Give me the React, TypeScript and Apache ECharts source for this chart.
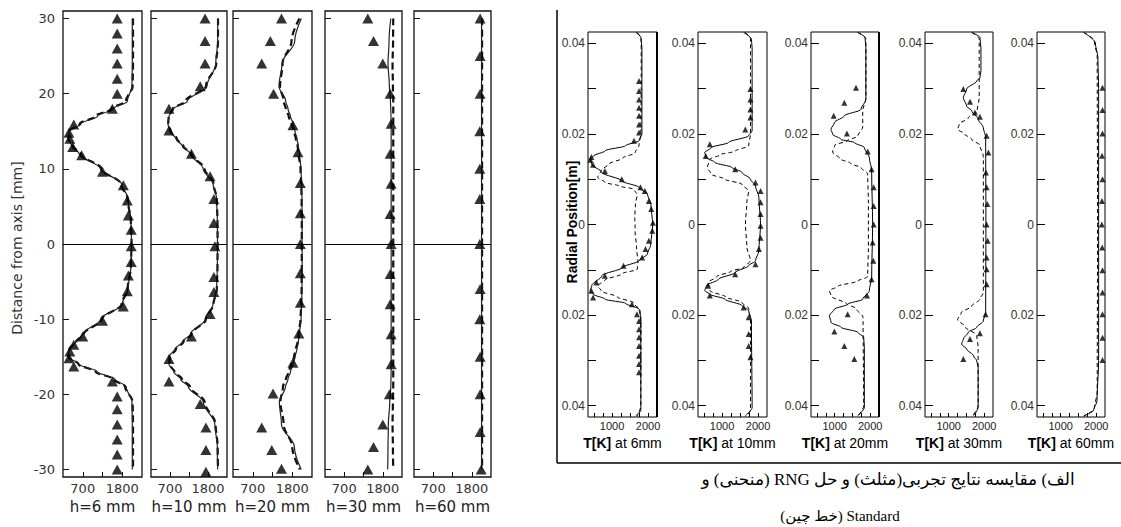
import React, { useEffect, useRef } from 'react';
import * as echarts from 'echarts';

// ---------------- LEFT PANEL DATA (T in K, distance in mm) ----------------
const LEFT_TITLES = ['h=6 mm', 'h=10 mm', 'h=20 mm', 'h=30 mm', 'h=60 mm'];
const LEFT_Y_NAME = 'Distance from axis [mm]';
const LEFT_X_TICKS = [700, 1250, 1800];
const LEFT_X_LABELS = [700, 1800];
const LEFT_Y_TICKS = [-30, -20, -10, 0, 10, 20, 30];

const LEFT_CURVE_Y = [30, 27, 24, 21, 19, 18, 17, 16, 15, 14, 13, 12, 10, 8, 6, 3, 0,
  -3, -6, -8, -10, -12, -13, -14, -15, -16, -17, -18, -19, -21, -24, -27, -30];

const H6_EXP_Y = [30, 28, 26, 24, 22, 20, 18, 15.9, 14.8, 14, 12.9, 11.8, 9.6, 7.8, 5.8, 3.8, 1.9,
  -0.3, -2.4, -4.2, -6.3, -8.3, -10.2, -12.3, -13.4, -14.3, -15.2, -16.3, -18.3, -20.3, -22, -24, -26, -28, -30];
const H6_EXP_T = [1660, 1660, 1660, 1660, 1660, 1660, 1525, 450, 315, 340, 420, 670, 1250, 1830, 1940, 1970, 2050,
  2050, 2050, 1970, 1940, 1830, 1250, 700, 450, 340, 315, 450, 1525, 1660, 1660, 1660, 1660, 1660, 1660];
const H6_RNG_T = [2080, 2080, 2080, 2070, 1940, 1550, 1110, 650, 315, 290, 400, 600, 1190, 1780, 1965, 2040, 2060,
  2040, 1960, 1800, 1195, 700, 500, 315, 290, 600, 1110, 1600, 1910, 2070, 2080, 2080, 2080];
const H6_STD_T = [2100, 2100, 2100, 2090, 1900, 1500, 1050, 620, 330, 300, 420, 640, 1220, 1760, 1950, 2040, 2060,
  2040, 1950, 1780, 1230, 730, 520, 330, 300, 580, 1060, 1560, 1880, 2090, 2100, 2100, 2100];

const H10_EXP_Y = [30, 27, 24, 21, 18, 15.1, 12, 9, 6, 2.8, -0.3, -4.4, -6.4, -9.3, -12.3, -15.3, -18.3, -21.3, -24.4, -27.4, -30.3];
const H10_EXP_T = [1715, 1715, 1715, 1575, 670, 670, 1320, 1860, 1970, 1970, 2000, 1970, 1970, 1860, 1320, 670, 670, 1575, 1740, 1740, 1740];
const H10_RNG_T = [2080, 2080, 2025, 1770, 1200, 810, 670, 640, 700, 870, 1060, 1290, 1660, 1945, 2050, 2070, 2075,
  2070, 2050, 1945, 1720, 1290, 1060, 840, 670, 670, 810, 1010, 1230, 1660, 2000, 2070, 2080];
const H10_STD_T = [2090, 2090, 2040, 1740, 1150, 780, 660, 650, 720, 900, 1090, 1320, 1700, 1960, 2055, 2075, 2080,
  2075, 2055, 1960, 1740, 1320, 1090, 870, 700, 680, 830, 1050, 1280, 1700, 2020, 2080, 2090];

const H20_EXP_Y = [30, 27, 24, 20, 15.8, 12.2, 8.1, 4.1, 0, -3.9, -7.8, -11.9, -15.8, -19.9, -24.4, -27.4, -29.9];
const H20_EXP_T = [1500, 1190, 950, 1280, 1820, 1960, 2025, 2025, 2025, 2025, 2025, 1985, 1820, 1265, 950, 1230, 1500];
const H20_RNG_T = [2053, 1870, 1515, 1430, 1617, 1681, 1748, 1820, 1876, 1932, 1970, 1998, 2043, 2060, 2070, 2075, 2075,
  2075, 2070, 2060, 2045, 2000, 1970, 1930, 1880, 1820, 1750, 1680, 1610, 1440, 1500, 1860, 2050];
const H20_STD_T = [2000, 1780, 1530, 1460, 1560, 1620, 1700, 1780, 1850, 1900, 1950, 1980, 2030, 2050, 2060, 2065, 2065,
  2065, 2060, 2050, 2030, 1980, 1950, 1900, 1850, 1780, 1700, 1620, 1540, 1470, 1560, 1800, 2010];

const H30_EXP_Y = [30, 27, 24, 20, 16, 12, 8, 4, 0, -4, -8, -12, -16, -20, -24, -27, -30];
const H30_EXP_T = [1373, 1536, 1802, 2012, 2040, 2012, 2040, 2012, 2040, 2012, 2012, 2040, 2040, 1990, 1802, 1536, 1373];
const H30_RNG_T = [2030, 1980, 1950, 1990, 2020, 2030, 2035, 2040, 2040, 2040, 2040, 2040, 2040, 2040, 2040, 2040, 2040,
  2040, 2040, 2040, 2040, 2040, 2040, 2040, 2040, 2040, 2040, 2035, 2030, 2000, 1960, 1950, 1940];
const H30_STD_T = [2100, 2095, 2080, 2090, 2100, 2100, 2100, 2100, 2100, 2100, 2100, 2100, 2100, 2100, 2100, 2100, 2100,
  2100, 2100, 2100, 2100, 2100, 2100, 2100, 2100, 2100, 2100, 2100, 2100, 2090, 2080, 2090, 2100];

const H60_EXP_Y = [30, 25, 20, 15, 10, 6, 0, -6, -10, -15, -20, -25, -30];
const H60_EXP_T = [2040, 2040, 2040, 2030, 2030, 2030, 2030, 2040, 2030, 2040, 2040, 2040, 2070];
const H60_RNG_T = [2080, 2080, 2080, 2080, 2080, 2080, 2080, 2080, 2080, 2080, 2080, 2080, 2080, 2080, 2080, 2080, 2080,
  2080, 2080, 2080, 2080, 2080, 2080, 2080, 2080, 2080, 2080, 2080, 2080, 2080, 2080, 2080, 2080];
const H60_STD_T = [2095, 2095, 2095, 2095, 2095, 2095, 2095, 2095, 2095, 2095, 2095, 2095, 2095, 2095, 2095, 2095, 2095,
  2095, 2095, 2095, 2095, 2095, 2095, 2095, 2095, 2095, 2095, 2095, 2095, 2095, 2095, 2095, 2095];

// ---------------- RIGHT PANEL DATA ([T in K, radial position in m]) ----------------
const RIGHT_TITLES = ['6mm', '10mm', '20mm', '30mm', '60mm'];
const RIGHT_Y_NAME = 'Radial Position[m]';
const RIGHT_X_TICKS = [500, 750, 1000, 1250, 1500, 1750, 2000];
const RIGHT_X_LABELS = [1000, 2000];
const RIGHT_Y_TICKS = [-0.04, -0.03, -0.02, -0.01, 0, 0.01, 0.02, 0.03, 0.04];
const RIGHT_Y_LABELS = [-0.04, -0.02, 0, 0.02, 0.04];

const R6_EXP = [[1750, 0.0317], [1750, 0.0295], [1750, 0.0276], [1750, 0.0258], [1750, 0.024], [1750, 0.0221], [1750, 0.0203], [1610, 0.0185],
  [424, 0.0149], [396, 0.0143], [471, 0.0132], [800, 0.0118], [1271, 0.01], [1789, 0.0082], [1911, 0.0074], [2024, 0.0052], [2090, 0.0034],
  [2137, 0.0004], [2118, -0.0014], [2024, -0.0036], [1930, -0.0054], [1836, -0.0073], [1318, -0.0091], [800, -0.0113], [565, -0.0128],
  [424, -0.0146], [471, -0.0161], [1553, -0.0176], [1694, -0.0198], [1750, -0.0213], [1750, -0.0231], [1750, -0.0249], [1750, -0.0268],
  [1750, -0.029], [1750, -0.0308], [1750, -0.0326]];
const R6_RNG = [[1660, 0.0424], [1800, 0.0413], [1830, 0.039], [1830, 0.02], [1750, 0.0185], [1375, 0.0174], [810, 0.0163], [480, 0.0151],
  [390, 0.0144], [435, 0.0133], [716, 0.0115], [1280, 0.0096], [1750, 0.0082], [1985, 0.0067], [2080, 0.0045], [2130, 0], [2080, -0.0043],
  [1985, -0.0065], [1750, -0.008], [1280, -0.0095], [716, -0.0113], [435, -0.0135], [390, -0.0146], [480, -0.0154], [810, -0.0165],
  [1375, -0.0174], [1750, -0.0187], [1800, -0.0205], [1800, -0.041], [1660, -0.0422]];
const R6_STD = [[1700, 0.0424], [1810, 0.041], [1810, 0.03], [1800, 0.02], [1750, 0.0175], [1640, 0.0158], [1300, 0.0147], [900, 0.0133],
  [700, 0.012], [600, 0.0104], [800, 0.0093], [1200, 0.0085], [1600, 0.0078], [1700, 0.0066], [1650, 0.0045], [1630, 0.0015], [1640, 0],
  [1640, -0.0015], [1680, -0.005], [1720, -0.0085], [1700, -0.0099], [1300, -0.0108], [800, -0.0123], [600, -0.0135], [700, -0.0147],
  [1150, -0.016], [1600, -0.0173], [1780, -0.019], [1800, -0.022], [1800, -0.04], [1700, -0.0424]];

const R10_EXP = [[1789, 0.0299], [1789, 0.0276], [1789, 0.0254], [1789, 0.0236], [1647, 0.021], [659, 0.0177], [546, 0.0151], [1365, 0.0122],
  [1930, 0.0093], [2071, 0.0074], [2071, 0.0049], [2071, 0.0023], [2071, -0.0003], [2071, -0.0029], [2024, -0.0054], [1930, -0.0088],
  [1365, -0.011], [612, -0.0135], [659, -0.0157], [1600, -0.0183], [1741, -0.0205], [1741, -0.0242], [1741, -0.0268], [1789, -0.0293]];
const R10_RNG = [[1600, 0.0424], [1817, 0.0409], [1836, 0.039], [1836, 0.0207], [1740, 0.0196], [1177, 0.0181], [706, 0.017], [518, 0.0159],
  [565, 0.0148], [800, 0.0137], [1270, 0.0126], [1553, 0.0115], [1790, 0.01], [1930, 0.0085], [2024, 0.006], [2070, 0], [2024, -0.0058],
  [1930, -0.008], [1740, -0.0091], [1365, -0.0106], [895, -0.0121], [565, -0.0135], [518, -0.0146], [660, -0.0154], [1080, -0.0165],
  [1553, -0.0179], [1740, -0.019], [1817, -0.0213], [1836, -0.0404], [1650, -0.0422]];
const R10_STD = [[1650, 0.0424], [1790, 0.041], [1790, 0.02], [1740, 0.0174], [1365, 0.0162], [940, 0.0154], [660, 0.0144], [590, 0.0126],
  [700, 0.0111], [1080, 0.01], [1550, 0.0089], [1740, 0.0074], [1690, 0.005], [1650, 0], [1690, -0.005], [1790, -0.008], [1600, -0.0095],
  [1250, -0.0103], [850, -0.0115], [610, -0.0128], [660, -0.0146], [1100, -0.016], [1550, -0.0172], [1740, -0.0185], [1790, -0.021],
  [1790, -0.041], [1650, -0.0424]];

const R20_EXP = [[1600, 0.0302], [1270, 0.0269], [970, 0.024], [1345, 0.0201], [1930, 0.0161], [2040, 0.0122], [2100, 0.0082], [2100, 0.0041],
  [2100, 0], [2070, -0.004], [2090, -0.008], [2040, -0.0121], [1910, -0.0157], [1365, -0.0198], [990, -0.0236], [1270, -0.0268], [1553, -0.0297]];
const R20_RNG = [[1650, 0.0424], [1855, 0.0413], [1880, 0.039], [1880, 0.0276], [1740, 0.0254], [1270, 0.024], [990, 0.0225], [895, 0.021],
  [942, 0.0199], [1177, 0.0188], [1553, 0.0181], [1835, 0.017], [1977, 0.0148], [2043, 0.0118], [2070, 0], [2043, -0.0117], [1977, -0.0146],
  [1790, -0.0165], [1365, -0.0176], [990, -0.0187], [850, -0.0201], [895, -0.0216], [1177, -0.0227], [1650, -0.0238], [1817, -0.0249],
  [1836, -0.0271], [1836, -0.0404], [1650, -0.0422]];
const R20_STD = [[1650, 0.0424], [1880, 0.041], [1880, 0.028], [1790, 0.025], [1790, 0.0215], [1650, 0.0195], [1350, 0.0185], [1000, 0.0175],
  [940, 0.016], [1150, 0.0145], [1450, 0.0135], [1750, 0.0125], [1930, 0.0112], [1950, 0.005], [1950, 0], [1950, -0.005], [1930, -0.0115],
  [1650, -0.0125], [1100, -0.0136], [850, -0.0146], [900, -0.0158], [1350, -0.0176], [1600, -0.0185], [1800, -0.0205], [1817, -0.04],
  [1650, -0.0424]];

const R30_EXP = [[1412, 0.0299], [1600, 0.0271], [1740, 0.0247], [1880, 0.0238], [2070, 0.0196], [2120, 0.0159], [2050, 0.0115], [2070, 0.0082],
  [2090, 0.0045], [2070, 0], [2100, -0.0036], [2070, -0.0073], [2070, -0.0099], [2070, -0.0132], [2040, -0.0198], [1880, -0.024],
  [1600, -0.0253], [1412, -0.0297]];
const R30_RNG = [[1650, 0.0424], [1880, 0.0413], [1910, 0.039], [1910, 0.0339], [1880, 0.0324], [1790, 0.0317], [1506, 0.0299], [1412, 0.028],
  [1506, 0.0261], [1650, 0.0251], [1835, 0.0232], [1977, 0.0214], [2043, 0.0192], [2050, 0], [2043, -0.0194], [1977, -0.0213],
  [1790, -0.0227], [1553, -0.0238], [1412, -0.0253], [1365, -0.0264], [1506, -0.0275], [1700, -0.029], [1790, -0.0301], [1830, -0.0315],
  [1830, -0.0404], [1700, -0.0422]];
const R30_STD = [[1650, 0.0424], [1860, 0.041], [1860, 0.028], [1800, 0.025], [1550, 0.0235], [1300, 0.0222], [1250, 0.021], [1450, 0.02],
  [1650, 0.0188], [1880, 0.0175], [1977, 0.015], [1977, 0], [1977, -0.015], [1880, -0.0165], [1650, -0.018], [1350, -0.0195],
  [1250, -0.021], [1450, -0.0225], [1790, -0.0245], [1830, -0.027], [1830, -0.04], [1650, -0.0424]];

const R60_EXP = [[2180, 0.0302], [2180, 0.0253], [2180, 0.0201], [2165, 0.0152], [2180, 0.01], [2165, 0.0052], [2160, 0], [2170, -0.0051],
  [2180, -0.0101], [2180, -0.015], [2180, -0.0198], [2180, -0.025], [2180, -0.0299]];
const R60_RNG = [[1650, 0.0424], [1977, 0.0401], [2050, 0.0368], [2070, 0.03], [2070, 0], [2070, -0.03], [2024, -0.0389], [1930, -0.041],
  [1650, -0.0422]];
const R60_STD = [[1650, 0.0424], [1950, 0.0405], [2030, 0.037], [2040, 0], [2030, -0.037], [1950, -0.0405], [1650, -0.0424]];

const CAPTION_1 = 'الف) مقایسه نتایج تجربی(مثلث) و حل RNG (منحنی) و';
const CAPTION_2 = 'Standard (خط چین)';

// ---------------- layout ----------------
const LEFT_BOX = [[63, 142], [151, 227], [233, 312], [325, 402], [414, 491]];
const LEFT_TOP = 11;
const LEFT_H = 466;
const RIGHT_BOX = [[588, 657], [698, 767], [811, 879], [925, 993], [1037, 1105]];
const RIGHT_TOP = 32;
const RIGHT_H = 385;

const SANS_L = "'DejaVu Sans', Verdana, sans-serif";
const SANS_R = "'Liberation Sans', Arial, sans-serif";
const SERIF_FA = "'Liberation Serif', 'DejaVu Sans', serif";
const RLE = '\u202B';
const PDF = '\u202C';

function buildOption() {
  const leftSets = [
    { ey: H6_EXP_Y, et: H6_EXP_T, rng: H6_RNG_T, std: H6_STD_T },
    { ey: H10_EXP_Y, et: H10_EXP_T, rng: H10_RNG_T, std: H10_STD_T },
    { ey: H20_EXP_Y, et: H20_EXP_T, rng: H20_RNG_T, std: H20_STD_T },
    { ey: H30_EXP_Y, et: H30_EXP_T, rng: H30_RNG_T, std: H30_STD_T },
    { ey: H60_EXP_Y, et: H60_EXP_T, rng: H60_RNG_T, std: H60_STD_T },
  ];
  const rightSets = [
    { exp: R6_EXP, rng: R6_RNG, std: R6_STD },
    { exp: R10_EXP, rng: R10_RNG, std: R10_STD },
    { exp: R20_EXP, rng: R20_RNG, std: R20_STD },
    { exp: R30_EXP, rng: R30_RNG, std: R30_STD },
    { exp: R60_EXP, rng: R60_RNG, std: R60_STD },
  ];
  const grid: any[] = [];
  const xAxis: any[] = [];
  const yAxis: any[] = [];
  const series: any[] = [];
  const graphic: any[] = [];

  LEFT_BOX.forEach(([l, r], i) => {
    grid.push({ left: l, top: LEFT_TOP, width: r - l, height: LEFT_H, show: true, borderColor: '#111', borderWidth: 1.3 });
    xAxis.push({
      type: 'value', gridIndex: i, min: 150, max: 2350, position: 'bottom',
      axisLine: { show: false, onZero: false }, splitLine: { show: false },
      axisTick: { show: true, inside: true, length: 5, customValues: LEFT_X_TICKS, lineStyle: { color: '#111' } },
      axisLabel: { show: true, customValues: LEFT_X_LABELS, margin: 5, fontSize: 13, fontFamily: SANS_L, color: '#333', formatter: (v: number) => String(v) },
    });
    yAxis.push({
      type: 'value', gridIndex: i, min: -31, max: 31, position: 'left',
      axisLine: { show: false, onZero: false }, splitLine: { show: false },
      axisTick: { show: true, inside: true, length: 6, customValues: LEFT_Y_TICKS, lineStyle: { color: '#111' } },
      axisLabel: { show: i === 0, customValues: LEFT_Y_TICKS, margin: 8, fontSize: 13, fontFamily: SANS_L, color: '#333', formatter: (v: number) => String(v) },
    });
    const d = leftSets[i];
    series.push({
      type: 'line', xAxisIndex: i, yAxisIndex: i, showSymbol: false, symbol: 'none',
      smooth: 0.35, smoothMonotone: 'y',
      data: LEFT_CURVE_Y.map((y, k) => [d.std[k], y]),
      lineStyle: { color: '#111', width: 2.2, type: [7, 4] }, z: 3,
    });
    series.push({
      type: 'line', xAxisIndex: i, yAxisIndex: i, showSymbol: false, symbol: 'none',
      smooth: 0.35, smoothMonotone: 'y',
      data: LEFT_CURVE_Y.map((y, k) => [d.rng[k], y]),
      lineStyle: { color: '#222', width: 1.2 }, z: 4,
      markLine: { silent: true, symbol: ['none', 'none'], label: { show: false }, lineStyle: { color: '#000', width: 1, type: 'solid' }, data: [{ yAxis: 0 }] },
    });
    series.push({
      type: 'scatter', xAxisIndex: i, yAxisIndex: i, symbol: 'triangle', symbolSize: [11, 10],
      data: d.ey.map((y, k) => [d.et[k], y]), itemStyle: { color: '#000' }, z: 5,
    });
    graphic.push({
      type: 'text', x: (l + r) / 2, y: 507,
      style: { text: LEFT_TITLES[i], fontSize: 15, fontFamily: SANS_L, fill: '#222', textAlign: 'center', textVerticalAlign: 'middle' },
    });
  });

  RIGHT_BOX.forEach(([l, r], j) => {
    const i = j + 5;
    grid.push({ left: l, top: RIGHT_TOP, width: r - l, height: RIGHT_H, show: true, borderColor: '#000', borderWidth: 1 });
    xAxis.push({
      type: 'value', gridIndex: i, min: 330, max: 2250, position: 'bottom',
      axisLine: { show: false, onZero: false }, splitLine: { show: false },
      axisTick: { show: true, inside: true, length: 4, customValues: RIGHT_X_TICKS, lineStyle: { color: '#000' } },
      axisLabel: { show: true, customValues: RIGHT_X_LABELS, margin: 3, fontSize: 11, fontFamily: SANS_R, color: '#222', formatter: (v: number) => String(v) },
    });
    yAxis.push({
      type: 'value', gridIndex: i, min: -0.0425, max: 0.0425, position: 'left',
      axisLine: { show: false, onZero: false }, splitLine: { show: false },
      axisTick: { show: true, inside: true, length: 8, customValues: RIGHT_Y_TICKS, lineStyle: { color: '#000' } },
      axisLabel: {
        show: true, customValues: RIGHT_Y_LABELS, margin: 3, fontSize: 12, fontFamily: SANS_R, color: '#333',
        formatter: (v: number) => (Math.abs(v) < 1e-9 ? '0' : Math.abs(v).toFixed(2)),
      },
    });
    const d = rightSets[j];
    series.push({
      type: 'line', xAxisIndex: i, yAxisIndex: i, showSymbol: false, symbol: 'none',
      smooth: 0.3, smoothMonotone: 'y', data: d.std,
      lineStyle: { color: '#000', width: 1, type: [4, 3] }, z: 3,
    });
    series.push({
      type: 'line', xAxisIndex: i, yAxisIndex: i, showSymbol: false, symbol: 'none',
      smooth: 0.3, smoothMonotone: 'y', data: d.rng,
      lineStyle: { color: '#000', width: 1 }, z: 4,
    });
    series.push({
      type: 'scatter', xAxisIndex: i, yAxisIndex: i, symbol: 'triangle', symbolSize: [6, 6],
      data: d.exp, itemStyle: { color: '#000' }, z: 5,
    });
    graphic.push({
      type: 'text', x: (l + r) / 2, y: 443,
      style: {
        text: '{b|T[K]} at ' + RIGHT_TITLES[j], fontSize: 14, fontFamily: SANS_R, fill: '#000',
        textAlign: 'center', textVerticalAlign: 'middle',
        rich: { b: { fontSize: 14, fontFamily: SANS_R, fontWeight: 'bold', fill: '#000' } },
      },
    });
    if (j === 0 || j === 2) {
      graphic.push({ type: 'line', shape: { x1: r, y1: RIGHT_TOP, x2: r, y2: RIGHT_TOP + RIGHT_H }, style: { stroke: '#000', lineWidth: 2 } });
    }
  });

  graphic.push({
    type: 'text', x: 17, y: 248, rotation: Math.PI / 2,
    style: { text: LEFT_Y_NAME, fontSize: 14, fontFamily: SANS_L, fill: '#333', textAlign: 'center', textVerticalAlign: 'middle' },
  });
  graphic.push({
    type: 'text', x: 572, y: 222, rotation: Math.PI / 2,
    style: { text: RIGHT_Y_NAME, fontSize: 14, fontWeight: 'bold', fontFamily: SANS_R, fill: '#000', textAlign: 'center', textVerticalAlign: 'middle' },
  });
  graphic.push({ type: 'line', shape: { x1: 557, y1: 10, x2: 557, y2: 463 }, style: { stroke: '#000', lineWidth: 1.5 } });
  graphic.push({ type: 'line', shape: { x1: 557, y1: 463, x2: 1121, y2: 463 }, style: { stroke: '#000', lineWidth: 1.5 } });
  graphic.push({
    type: 'text', x: 888, y: 479,
    style: { text: RLE + CAPTION_1 + PDF, fontSize: 17, fontFamily: SERIF_FA, fill: '#000', textAlign: 'center', textVerticalAlign: 'middle' },
  });
  graphic.push({
    type: 'text', x: 840, y: 516,
    style: { text: RLE + CAPTION_2 + PDF, fontSize: 15, fontFamily: SERIF_FA, fill: '#000', textAlign: 'center', textVerticalAlign: 'middle' },
  });

  return {
    animation: false,
    backgroundColor: '#fff',
    grid, xAxis, yAxis, series, graphic,
  };
}

export default function App() {
  const ref = useRef<HTMLDivElement>(null);
  useEffect(() => {
    const chart = echarts.init(ref.current as HTMLDivElement, null, { renderer: 'svg' });
    chart.setOption(buildOption() as any);
    return () => chart.dispose();
  }, []);
  return <div ref={ref} style={{ position: 'absolute', left: 0, top: 0, width: 1121, height: 527 }} />;
}
